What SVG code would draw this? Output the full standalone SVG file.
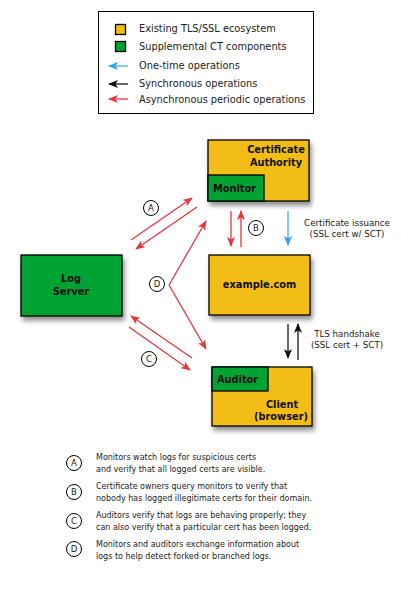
<svg xmlns="http://www.w3.org/2000/svg" width="401" height="605" viewBox="0 0 401 605">
<defs>
<filter id="sh" x="-20%" y="-20%" width="150%" height="160%">
<feDropShadow dx="2" dy="4" stdDeviation="2.5" flood-color="#000" flood-opacity="0.45"/>
</filter>
<marker id="ar" markerWidth="10" markerHeight="8" refX="9" refY="4" orient="auto" markerUnits="userSpaceOnUse"><path d="M0,0 L10,4 L0,8 L2.5,4 Z" fill="#e8343c"/></marker>
<marker id="ab" markerWidth="10" markerHeight="8" refX="9" refY="4" orient="auto" markerUnits="userSpaceOnUse"><path d="M0,0 L10,4 L0,8 L2.5,4 Z" fill="#2f9ff0"/></marker>
<marker id="ak" markerWidth="10" markerHeight="8" refX="9" refY="4" orient="auto" markerUnits="userSpaceOnUse"><path d="M0,0 L10,4 L0,8 L2.5,4 Z" fill="#111"/></marker>
</defs>
<style>
text{font-family:"DejaVu Sans",Verdana,sans-serif;fill:#222}
.lg{font-size:9.8px}
.bx{font-size:9.8px;font-weight:bold;fill:#111}
.lb{font-size:8.7px}
.fn{font-size:8px}
.cl{font-size:8.5px;text-anchor:middle}
.or{fill:#f2bd14;stroke:#000;stroke-width:1.3}
.gr{fill:#00a232;stroke:#000;stroke-width:1.3}
.red{stroke:#e8343c;stroke-width:1.3;fill:none;marker-end:url(#ar)}
.blu{stroke:#5bb8f5;stroke-width:1.5;fill:none;marker-end:url(#ab)}
.blk{stroke:#333;stroke-width:1.5;fill:none;marker-end:url(#ak)}
.ci{fill:#fff;stroke:#000;stroke-width:1}
</style>
<g id="legend">
<rect x="98.5" y="11.5" width="215" height="102" fill="#fff" stroke="#000"/>
<rect x="115.5" y="24.5" width="10" height="10" class="or" stroke-width="1"/>
<rect x="115.5" y="41.5" width="10" height="10" class="gr" stroke-width="1"/>
<line x1="128" y1="66" x2="109" y2="66" class="blu"/>
<line x1="128" y1="84" x2="109" y2="84" class="blk"/>
<line x1="128" y1="99" x2="109" y2="99" class="red"/>
<text x="139" y="32" class="lg">Existing TLS/SSL ecosystem</text>
<text x="139" y="50" class="lg">Supplemental CT components</text>
<text x="139" y="69" class="lg">One-time operations</text>
<text x="139" y="87" class="lg">Synchronous operations</text>
<text x="139" y="103" class="lg">Asynchronous periodic operations</text>
</g>
<g id="ca">
<rect x="208" y="140" width="101" height="61" class="or" filter="url(#sh)"/>
<rect x="208" y="175" width="56" height="26" class="gr"/>
<text x="276" y="153" class="bx" text-anchor="middle">Certificate</text>
<text x="276" y="166" class="bx" text-anchor="middle">Authority</text>
<text x="213" y="192" class="bx">Monitor</text>
</g>
<g id="example">
<rect x="209" y="255" width="101" height="60" class="or" filter="url(#sh)"/>
<text x="259.5" y="288" class="bx" text-anchor="middle">example.com</text>
</g>
<g id="logserver">
<rect x="21" y="255" width="101" height="61" class="gr" filter="url(#sh)"/>
<text x="71" y="282" class="bx" text-anchor="middle">Log</text>
<text x="71" y="295" class="bx" text-anchor="middle">Server</text>
</g>
<g id="client">
<rect x="212" y="367" width="100" height="59" class="or" filter="url(#sh)"/>
<rect x="212" y="367" width="56" height="24" class="gr"/>
<text x="217" y="383" class="bx">Auditor</text>
<text x="282" y="408" class="bx" text-anchor="middle">Client</text>
<text x="281" y="420" class="bx" text-anchor="middle">(browser)</text>
</g>
<g id="connectors">
<line x1="131" y1="240" x2="192" y2="198" class="red"/>
<line x1="197" y1="207" x2="136" y2="249" class="red"/>
<line x1="169" y1="285" x2="206" y2="221" class="red"/>
<line x1="169" y1="285" x2="206" y2="349" class="red"/>
<line x1="192" y1="358" x2="131" y2="316" class="red"/>
<line x1="129" y1="327" x2="190" y2="370" class="red"/>
<line x1="231" y1="211" x2="231" y2="246" class="red"/>
<line x1="241" y1="247" x2="241" y2="211" class="red"/>
<line x1="288" y1="211" x2="288" y2="245" class="blu"/>
<line x1="288" y1="324" x2="288" y2="358" class="blk"/>
<line x1="298" y1="360" x2="298" y2="324" class="blk"/>
</g>
<g id="labels">
<circle cx="151" cy="208" r="7.5" class="ci"/><text x="151" y="211" class="cl">A</text>
<circle cx="256" cy="228" r="7.5" class="ci"/><text x="256" y="231" class="cl">B</text>
<circle cx="157" cy="284" r="7.5" class="ci"/><text x="157" y="287" class="cl">D</text>
<circle cx="149" cy="359" r="7.5" class="ci"/><text x="149" y="362" class="cl">C</text>
<text x="347" y="226" class="lb" text-anchor="middle">Certificate issuance</text>
<text x="347" y="237" class="lb" text-anchor="middle">(SSL cert w/ SCT)</text>
<text x="347" y="337" class="lb" text-anchor="middle">TLS handshake</text>
<text x="347" y="348" class="lb" text-anchor="middle">(SSL cert + SCT)</text>
</g>
<g id="footnotes">
<circle cx="74" cy="463" r="7.5" class="ci"/><text x="74" y="466" class="cl">A</text>
<circle cx="74" cy="492" r="7.5" class="ci"/><text x="74" y="495" class="cl">B</text>
<circle cx="74" cy="521" r="7.5" class="ci"/><text x="74" y="524" class="cl">C</text>
<circle cx="74" cy="549" r="7.5" class="ci"/><text x="74" y="552" class="cl">D</text>
<text x="96" y="460" class="fn">Monitors watch logs for suspicious certs</text>
<text x="96" y="472" class="fn">and verify that all logged certs are visible.</text>
<text x="96" y="489" class="fn">Certificate owners query monitors to verify that</text>
<text x="96" y="501" class="fn">nobody has logged illegitimate certs for their domain.</text>
<text x="96" y="518" class="fn">Auditors verify that logs are behaving properly; they</text>
<text x="96" y="530" class="fn">can also verify that a particular cert has been logged.</text>
<text x="96" y="547" class="fn">Monitors and auditors exchange information about</text>
<text x="96" y="559" class="fn">logs to help detect forked or branched logs.</text>
</g>
</svg>
